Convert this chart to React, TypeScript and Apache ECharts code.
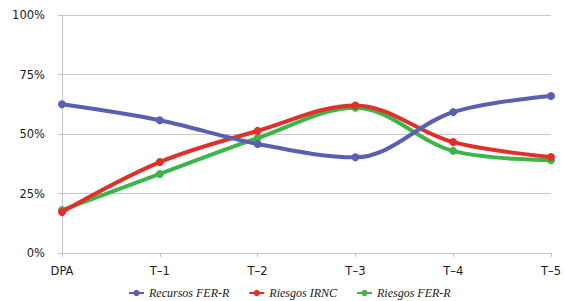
import React, { useEffect, useRef } from "react";
import * as echarts from "echarts";

const categories = ["DPA", "T\u20131", "T\u20132", "T\u20133", "T\u20134", "T\u20135"];
const recursosFER = [62.5, 55.8, 45.8, 40.2, 59.2, 66.0];
const riesgosIRNC = [17.2, 38.2, 51.3, 62.0, 46.6, 40.3];
const riesgosFER = [18.0, 33.2, 48.3, 61.0, 42.9, 39.0];
const seriesNames = ["Recursos FER-R", "Riesgos IRNC", "Riesgos FER-R"];
const colors = ["#5a5fb0", "#e0302a", "#3db54a"];

export default function App() {
  const ref = useRef<HTMLDivElement>(null);
  useEffect(() => {
    if (!ref.current) return;
    const chart = echarts.init(ref.current, null, { renderer: "svg" });
    const data = [recursosFER, riesgosIRNC, riesgosFER];
    chart.setOption({
      animation: false,
      grid: { left: 62, right: 14, top: 15, bottom: 48 },
      legend: {
        top: 282,
        left: 123,
        itemWidth: 15,
        itemHeight: 8,
        itemGap: 19,
        textStyle: {
          fontFamily: "Liberation Serif",
          fontStyle: "italic",
          fontSize: 12,
          color: "#1a1a1a",
        },
        data: seriesNames,
      },
      xAxis: {
        type: "category",
        data: categories,
        boundaryGap: false,
        axisLine: { lineStyle: { color: "#c4c4c4", width: 1 } },
        axisTick: { show: true, lineStyle: { color: "#c4c4c4" }, length: 4 },
        axisLabel: {
          color: "#1a1a1a",
          fontFamily: "DejaVu Sans",
          fontSize: 11.5,
          margin: 12,
        },
      },
      yAxis: {
        type: "value",
        min: 0,
        max: 100,
        interval: 25,
        axisLine: { show: true, lineStyle: { color: "#c4c4c4" } },
        axisTick: { show: true, length: 4, lineStyle: { color: "#c4c4c4" } },
        splitLine: { lineStyle: { color: "#c8c8c8" } },
        axisLabel: {
          formatter: "{value}%",
          color: "#1a1a1a",
          fontFamily: "DejaVu Sans",
          fontSize: 11.5,
          margin: 17,
        },
      },
      series: seriesNames.map((name, i) => ({
        name,
        type: "line",
        data: data[i],
        smooth: 0.35,
        symbol: "circle",
        symbolSize: 8,
        lineStyle: { width: 4, color: colors[i] },
        itemStyle: { color: colors[i] },
        z: 3 - i,
      })),
    });
    return () => chart.dispose();
  }, []);
  return (
    <div
      ref={ref}
      style={{ position: "absolute", left: 0, top: 0, width: 565, height: 301 }}
    />
  );
}
